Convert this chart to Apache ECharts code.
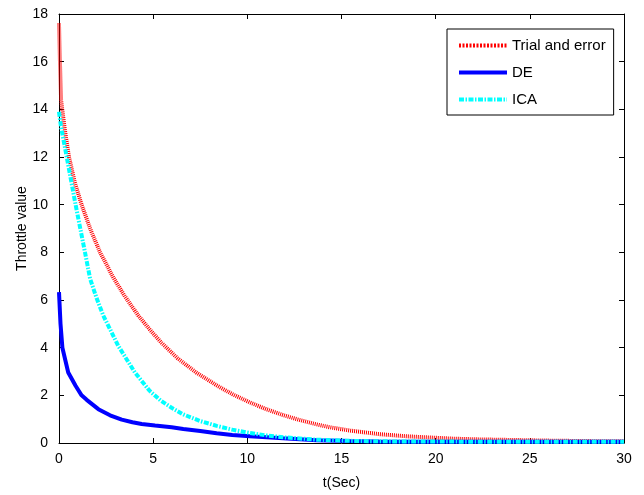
<!DOCTYPE html>
<html>
<head>
<meta charset="utf-8">
<script src="https://cdn.jsdelivr.net/npm/echarts@6/dist/echarts.min.js"></script>
<style>
html,body{margin:0;padding:0;background:#fff;}
#c{width:644px;height:495px;}
</style>
</head>
<body>
<div id="c"></div>
<script>
// Data
const seriesNames = ['Trial and error', 'DE', 'ICA'];
const seriesColors = ['#ff0000', '#0000ff', '#00ffff'];

const trialT = [0, 0.05, 0.11, 0.3, 0.53, 0.85, 1.2, 1.7, 2.18, 2.88, 3.5, 4.21, 4.83, 5.45, 6.3, 7.3, 8.37, 9.2, 10.14, 11.0, 11.9, 12.8, 13.68, 14.38, 15.45, 17.04, 18.5, 19.7, 21.0, 22.35, 24.6, 26, 28, 30];
const trialV = [17.6, 16.0, 14.4, 13.2, 12.0, 10.9, 10.0, 8.9, 8.0, 6.95, 6.15, 5.35, 4.75, 4.2, 3.55, 2.95, 2.42, 2.05, 1.7, 1.42, 1.17, 0.96, 0.78, 0.66, 0.52, 0.37, 0.28, 0.23, 0.18, 0.15, 0.12, 0.1, 0.08, 0.07];

const deT = [0, 0.08, 0.18, 0.49, 0.88, 1.2, 1.47, 2.09, 2.71, 3.33, 3.9, 4.39, 5.1, 5.98, 6.6, 7.5, 8.37, 9.2, 10.14, 11.9, 13.68, 15.45, 17, 18.5, 20, 25, 30];
const deV = [6.33, 5.0, 4.0, 2.96, 2.40, 2.0, 1.81, 1.42, 1.16, 0.98, 0.87, 0.8, 0.73, 0.66, 0.59, 0.5, 0.41, 0.34, 0.28, 0.2, 0.12, 0.08, 0.06, 0.05, 0.05, 0.05, 0.05];

const icaT = [0, 0.1, 0.41, 0.88, 1.38, 1.65, 2.0, 2.35, 3.15, 4.03, 4.8, 5.4, 5.98, 6.6, 7.5, 8.37, 9.2, 10.14, 11.0, 11.9, 13.68, 15.5, 17, 20, 25, 30];
const icaV = [13.9, 13.3, 12.0, 10.0, 8.0, 6.9, 6.07, 5.35, 4.07, 2.96, 2.2, 1.78, 1.48, 1.2, 0.92, 0.72, 0.56, 0.42, 0.32, 0.24, 0.14, 0.09, 0.07, 0.06, 0.05, 0.05];

const xTicks = [0, 5, 10, 15, 20, 25, 30];
const yTicks = [0, 2, 4, 6, 8, 10, 12, 14, 16, 18];

function pairs(t, v) { return t.map((x, i) => [x, v[i]]); }

const FONT = "'Liberation Sans', Arial, Helvetica, sans-serif";
const lineTypes = [[1, 1], 'solid', [5, 1.5, 1.5, 1.5]];
const legendTypes = [[2, 1.5], 'solid', [5, 1.5, 1.5, 1.5]];
const axisCommon = {
  axisLine: { show: true, onZero: false, lineStyle: { color: '#000', width: 1 } },
  axisTick: { show: true, inside: true, length: 5, lineStyle: { color: '#000' } },
  splitLine: { show: false }
};

const chart = echarts.init(document.getElementById('c'), null, { renderer: 'canvas' });
chart.setOption({
  animation: false,
  backgroundColor: '#fff',
  textStyle: { fontFamily: FONT },
  grid: { left: 59, right: 20, top: 14, bottom: 51, containLabel: false },
  legend: {
    orient: 'vertical',
    left: 447, top: 29,
    padding: [9, 8, 8, 10],
    itemWidth: 48, itemHeight: 14, itemGap: 12,
    borderColor: '#000', borderWidth: 1,
    backgroundColor: '#fff',
    itemStyle: { opacity: 0 },
    textStyle: { fontFamily: FONT, fontSize: 15, color: '#000' },
    data: seriesNames.map((n, i) => ({
      name: n,
      lineStyle: { color: seriesColors[i], width: 4, type: legendTypes[i], opacity: 1 }
    }))
  },
  xAxis: [
    Object.assign({
      type: 'value', min: xTicks[0], max: xTicks[xTicks.length - 1], interval: 5,
      position: 'bottom',
      name: 't(Sec)', nameLocation: 'middle', nameGap: 33, nameMoveOverlap: false,
      nameTextStyle: { fontFamily: FONT, fontSize: 14, color: '#000' },
      axisLabel: { color: '#000', fontFamily: FONT, fontSize: 14, margin: 9 }
    }, axisCommon),
    Object.assign({
      type: 'value', min: 0, max: 30, interval: 5, position: 'top',
      axisLabel: { show: false }
    }, axisCommon)
  ],
  yAxis: [
    Object.assign({
      type: 'value', min: yTicks[0], max: yTicks[yTicks.length - 1], interval: 2,
      position: 'left',
      name: 'Throttle value', nameLocation: 'middle', nameGap: 30, nameMoveOverlap: false,
      nameTextStyle: { fontFamily: FONT, fontSize: 14, color: '#000' },
      axisLabel: { color: '#000', fontFamily: FONT, fontSize: 14, margin: 11 }
    }, axisCommon),
    Object.assign({
      type: 'value', min: 0, max: 18, interval: 2, position: 'right',
      axisLabel: { show: false }
    }, axisCommon)
  ],
  series: [
    {
      name: seriesNames[0], type: 'line', showSymbol: false, symbol: 'none',
      data: pairs(trialT, trialV),
      itemStyle: { color: seriesColors[0] },
      lineStyle: { color: seriesColors[0], width: 4, type: lineTypes[0] },
      z: 2
    },
    {
      name: seriesNames[1], type: 'line', showSymbol: false, symbol: 'none',
      data: pairs(deT, deV),
      itemStyle: { color: seriesColors[1] },
      lineStyle: { color: seriesColors[1], width: 4, type: lineTypes[1] },
      z: 3
    },
    {
      name: seriesNames[2], type: 'line', showSymbol: false, symbol: 'none',
      data: pairs(icaT, icaV),
      itemStyle: { color: seriesColors[2] },
      lineStyle: { color: seriesColors[2], width: 4, type: lineTypes[2] },
      z: 4
    }
  ]
});
</script>
</body>
</html>
